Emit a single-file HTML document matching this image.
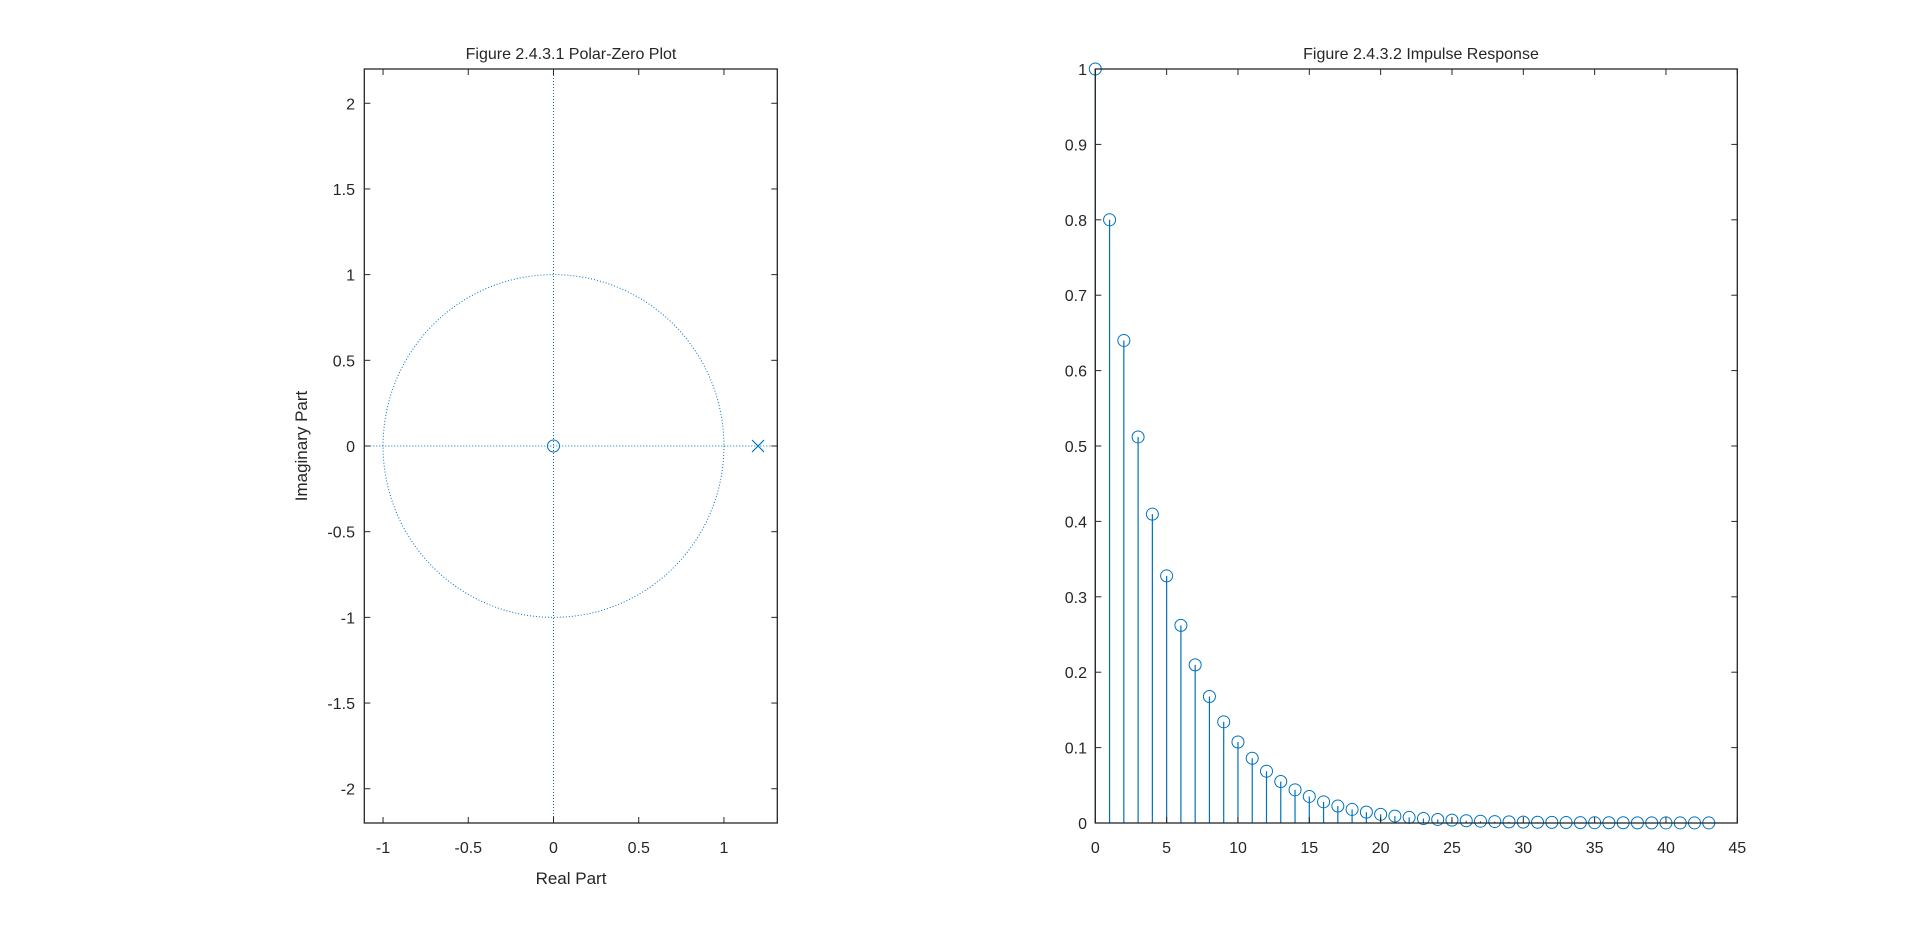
<!DOCTYPE html>
<html><head><meta charset="utf-8"><style>
body{margin:0;background:#fff;}
svg{display:block;font-family:"Liberation Sans",Arial,sans-serif;}
</style></head><body>
<svg id="fig" width="1920" height="926" viewBox="0 0 1920 926" xmlns="http://www.w3.org/2000/svg">
<rect width="1920" height="926" fill="#fff"/>
<g id="left"></g>
<g id="right"></g>
</svg>
<script>
const pzXTicks=[-1,-0.5,0,0.5,1];
const pzYTicks=[2,1.5,1,0.5,0,-0.5,-1,-1.5,-2];
const zerosRe=[0];const zerosIm=[0];
const polesRe=[1.2];const polesIm=[0];
const irN=[0,1,2,3,4,5,6,7,8,9,10,11,12,13,14,15,16,17,18,19,20,21,22,23,24,25,26,27,28,29,30,31,32,33,34,35,36,37,38,39,40,41,42,43];
const irH=[1,0.8,0.64,0.512,0.4096,0.3277,0.2621,0.2097,0.1678,0.1342,0.1074,0.0859,0.0687,0.055,0.044,0.0352,0.0281,0.0225,0.018,0.0144,0.0115,0.0092,0.0074,0.0059,0.0047,0.0038,0.003,0.0024,0.0019,0.0015,0.0012,0.001,0.0008,0.0006,0.0005,0.0004,0.0003,0.0003,0.0002,0.0002,0.0001,0.0001,0.0001,0.0001];
const irXTicks=[0,5,10,15,20,25,30,35,40,45];
const irYTicks=[0,0.1,0.2,0.3,0.4,0.5,0.6,0.7,0.8,0.9,1];
const NS='http://www.w3.org/2000/svg';
const BLUE='#0072BD',AX='#262626';
function mk(p,t,a){const e=document.createElementNS(NS,t);for(const k in a)e.setAttribute(k,a[k]);p.appendChild(e);return e;}
function txt(p,x,y,s,size,anchor){const e=mk(p,'text',{x:x,y:y,'font-size':size,'text-anchor':anchor,fill:AX});e.textContent=s;return e;}

// LEFT
const L=document.getElementById('left');
const lx0=364.3,lx1=777.3,ly0=69,ly1=823,xmin=-1.11,xmax=1.313,ymin=-2.2,ymax=2.2;
const sxL=v=>lx0+(v-xmin)/(xmax-xmin)*(lx1-lx0);
const syL=v=>ly1-(v-ymin)/(ymax-ymin)*(ly1-ly0);
// dotted lines
let g=mk(L,'g',{});


mk(g,'ellipse',{cx:sxL(0),cy:syL(0),rx:sxL(1)-sxL(0),ry:syL(0)-syL(1),fill:'none',stroke:BLUE,'stroke-width':1,'stroke-dasharray':'1 2'});
let h=mk(L,'line',{x1:lx0,x2:lx1,y1:syL(0),y2:syL(0),stroke:BLUE,'stroke-width':1,'stroke-dasharray':'1 2'});


let v=mk(L,'line',{x1:sxL(0),x2:sxL(0),y1:ly0,y2:ly1,stroke:BLUE,'stroke-width':1,'stroke-dasharray':'1 2'});


zerosRe.forEach((r,i)=>{const c=mk(L,'circle',{cx:sxL(r),cy:syL(zerosIm[i]),r:6,fill:'none',stroke:BLUE,'stroke-width':1});

});
polesRe.forEach((r,i)=>{const x=sxL(r),y=syL(polesIm[i]);const p=mk(L,'path',{d:`M${x-6} ${y-6}L${x+6} ${y+6}M${x-6} ${y+6}L${x+6} ${y-6}`,stroke:BLUE,'stroke-width':1.2,fill:'none'});

});
let box=mk(L,'rect',{x:lx0,y:ly0,width:lx1-lx0,height:ly1-ly0,fill:'none',stroke:AX,'stroke-width':1.3});


pzXTicks.forEach(t=>{const x=sxL(t);mk(L,'line',{x1:x,x2:x,y1:ly1,y2:ly1-6,stroke:AX});mk(L,'line',{x1:x,x2:x,y1:ly0,y2:ly0+6,stroke:AX});
const e=txt(L,x,853,String(t),16,'middle');});
pzYTicks.forEach(t=>{const y=syL(t);mk(L,'line',{x1:lx0,x2:lx0+6,y1:y,y2:y,stroke:AX});mk(L,'line',{x1:lx1,x2:lx1-6,y1:y,y2:y,stroke:AX});
const e=txt(L,355,y+6,String(t),16,'end');});
let t1=txt(L,571,59,'Figure 2.4.3.1 Polar-Zero Plot',16,'middle');


let xl=txt(L,571,884,'Real Part',17,'middle');


let yl=txt(L,0,0,'Imaginary Part',17,'middle');
yl.setAttribute('transform','translate(307,446) rotate(-90)');



// RIGHT
const R=document.getElementById('right');
const rx0=1095.3,rx1=1737.3,ry0=69,ry1=823;
const sxR=v=>rx0+v/45*(rx1-rx0);
const syR=v=>ry1-v*(ry1-ry0);
irN.forEach((n,i)=>{const x=sxR(n),y=syR(irH[i]);
const s=mk(R,'line',{x1:x,x2:x,y1:ry1,y2:y,stroke:BLUE,'stroke-width':1.2});


const c=mk(R,'circle',{cx:x,cy:y,r:6,fill:'none',stroke:BLUE,'stroke-width':1});

});
let box2=mk(R,'rect',{x:rx0,y:ry0,width:rx1-rx0,height:ry1-ry0,fill:'none',stroke:AX,'stroke-width':1.3});


irXTicks.forEach(t=>{const x=sxR(t);mk(R,'line',{x1:x,x2:x,y1:ry1,y2:ry1-6,stroke:AX});mk(R,'line',{x1:x,x2:x,y1:ry0,y2:ry0+6,stroke:AX});
const e=txt(R,x,853,String(t),16,'middle');});
irYTicks.forEach(t=>{const y=syR(t);mk(R,'line',{x1:rx0,x2:rx0+6,y1:y,y2:y,stroke:AX});mk(R,'line',{x1:rx1,x2:rx1-6,y1:y,y2:y,stroke:AX});
const e=txt(R,1087,y+6,String(t),16,'end');});
let t2=txt(R,1421,59,'Figure 2.4.3.2 Impulse Response',16,'middle');


</script>
</body></html>
